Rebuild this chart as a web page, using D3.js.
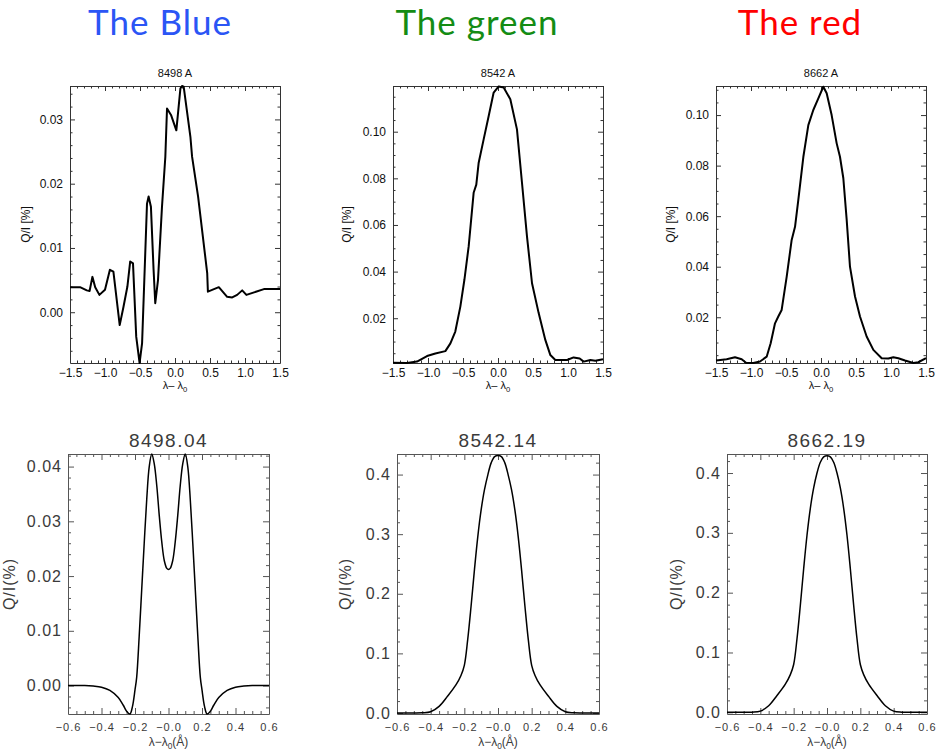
<!DOCTYPE html>
<html><head><meta charset="utf-8">
<script src="https://cdn.jsdelivr.net/npm/d3@7"></script>
<style>body{margin:0;background:#fff;} svg{display:block;}</style>
</head><body><svg id="c" width="939" height="750"></svg>
<script>
// ---------- DATA ----------
const groupTitles = ["The Blue", "The green", "The red"];
const topTitles = ["8498 A", "8542 A", "8662 A"];
const bottomTitles = ["8498.04", "8542.14", "8662.19"];

// observed profiles (top row)
const obsBlueX = [-1.5,-1.357,-1.26,-1.22,-1.18,-1.14,-1.08,-1.0,-0.93,-0.88,-0.79,-0.735,-0.68,-0.64,-0.6,-0.554,-0.506,-0.47,-0.4,-0.377,-0.344,-0.306,-0.282,-0.243,-0.186,-0.138,-0.114,-0.057,0.019,0.038,0.077,0.1,0.124,0.22,0.244,0.33,0.46,0.47,0.626,0.745,0.817,0.888,0.96,1.02,1.27,1.39,1.5];
const obsBlueY = [0.0039,0.0039,0.0034,0.0033,0.0055,0.0039,0.0027,0.0035,0.0066,0.0063,-0.002,0.0009,0.004,0.0079,0.0076,-0.0038,-0.0079,-0.0048,0.0169,0.018,0.0164,0.0066,0.0014,0.005,0.0164,0.0242,0.0317,0.0307,0.0283,0.0304,0.0348,0.0352,0.0351,0.0273,0.0242,0.018,0.0061,0.0032,0.0039,0.0024,0.0023,0.0027,0.0034,0.0027,0.0036,0.0036,0.0036];

const obsGreenX = [-1.5,-1.3,-1.157,-1.014,-0.895,-0.752,-0.68,-0.61,-0.538,-0.48,-0.419,-0.348,-0.31,-0.276,-0.205,-0.133,-0.062,0.01,0.081,0.176,0.271,0.343,0.414,0.486,0.581,0.676,0.748,0.819,0.986,1.08,1.167,1.224,1.319,1.39,1.5];
const obsGreenY = [0.0009,0.0008,0.0014,0.0038,0.0049,0.0059,0.0092,0.0143,0.025,0.0365,0.0508,0.0738,0.0773,0.0867,0.0967,0.1067,0.1168,0.1194,0.119,0.1139,0.101,0.078,0.0551,0.035,0.0222,0.0107,0.0042,0.0021,0.0021,0.0032,0.0027,0.0014,0.0021,0.0018,0.0024];

const obsRedX = [-1.5,-1.348,-1.229,-1.133,-1.071,-0.967,-0.871,-0.776,-0.719,-0.657,-0.61,-0.562,-0.49,-0.419,-0.371,-0.324,-0.252,-0.181,-0.11,-0.038,0.033,0.081,0.152,0.224,0.271,0.319,0.367,0.414,0.486,0.557,0.652,0.748,0.867,0.962,1.033,1.105,1.2,1.319,1.39,1.5];
const obsRedY = [0.0029,0.0034,0.0042,0.0034,0.0020,0.0019,0.0025,0.0044,0.0097,0.0176,0.0203,0.0229,0.0361,0.0506,0.0558,0.0664,0.0835,0.096,0.102,0.1066,0.1112,0.1086,0.1,0.0888,0.0835,0.075,0.0585,0.04,0.0282,0.0203,0.0124,0.0071,0.0038,0.0037,0.0042,0.0038,0.0029,0.0019,0.0022,0.0038];

// synthetic profiles (bottom row)
const synBlueX = [-0.6,-0.5,-0.45,-0.4,-0.35,-0.3,-0.27,-0.25,-0.23,-0.215,-0.2,-0.19,-0.175,-0.16,-0.145,-0.13,-0.115,-0.1,-0.085,-0.07,-0.055,-0.04,-0.025,-0.01,0,0.01,0.025,0.04,0.055,0.07,0.085,0.1,0.115,0.13,0.145,0.16,0.175,0.19,0.2,0.215,0.23,0.25,0.27,0.3,0.35,0.4,0.45,0.5,0.6];
const synBlueY = [0,0,-0.0001,-0.0003,-0.0009,-0.0022,-0.0036,-0.0047,-0.0052,-0.0038,-0.0008,0.0015,0.009,0.0175,0.026,0.034,0.040,0.0423,0.0405,0.0365,0.031,0.0262,0.0228,0.0214,0.0212,0.0214,0.0228,0.0262,0.031,0.0365,0.0405,0.0423,0.040,0.034,0.026,0.0175,0.009,0.0015,-0.0008,-0.0038,-0.0052,-0.0047,-0.0036,-0.0022,-0.0009,-0.0003,-0.0001,0,0];

const synGreenX = [-0.6,-0.5,-0.45,-0.4,-0.35,-0.3,-0.25,-0.22,-0.2,-0.18,-0.16,-0.14,-0.12,-0.1,-0.08,-0.06,-0.04,-0.02,0,0.02,0.04,0.06,0.08,0.1,0.12,0.14,0.16,0.18,0.2,0.22,0.25,0.3,0.35,0.4,0.45,0.5,0.6];
const synGreenY = [0,0,0.0003,0.002,0.011,0.028,0.047,0.063,0.08,0.123,0.179,0.24,0.296,0.341,0.375,0.4,0.42,0.43,0.432,0.43,0.42,0.4,0.375,0.341,0.296,0.24,0.179,0.123,0.08,0.063,0.047,0.028,0.011,0.002,0.0003,0,0];

const synRedX = [-0.6,-0.5,-0.45,-0.4,-0.35,-0.3,-0.25,-0.22,-0.2,-0.18,-0.16,-0.14,-0.12,-0.1,-0.08,-0.06,-0.04,-0.02,0,0.02,0.04,0.06,0.08,0.1,0.12,0.14,0.16,0.18,0.2,0.22,0.25,0.3,0.35,0.4,0.45,0.5,0.6];
const synRedY = [0,0,0.0003,0.002,0.011,0.028,0.047,0.063,0.08,0.123,0.179,0.24,0.296,0.341,0.375,0.4,0.418,0.427,0.429,0.427,0.418,0.4,0.375,0.341,0.296,0.24,0.179,0.123,0.08,0.063,0.047,0.028,0.011,0.002,0.0003,0,0];

// axis tick labels / extents
const topXTicks = [-1.5,-1.0,-0.5,0.0,0.5,1.0,1.5];
const bottomXTicks = [-0.6,-0.4,-0.2,0.0,0.2,0.4,0.6];
const obsBlueYTicks = [0.00,0.01,0.02,0.03];
const obsGreenYTicks = [0.02,0.04,0.06,0.08,0.10];
const obsRedYTicks = [0.02,0.04,0.06,0.08,0.10];
const synBlueYTicks = [0.00,0.01,0.02,0.03,0.04];
const synGreenYTicks = [0.0,0.1,0.2,0.3,0.4];
const synRedYTicks = [0.0,0.1,0.2,0.3,0.4];
const obsYDomains = [[-0.0079,0.0352],[0.0008,0.1196],[0.0019,0.1115]];
const synYDomains = [[-0.0052,0.0423],[-0.0017,0.4345],[-0.0028,0.4318]];

// ---------- DRAW ----------
const svg = d3.select("#c");
const titleColors = ["#2b55f5","#148c14","#ff0000"];
const titleX = [160, 477, 800];
svg.selectAll("text.gt").data(groupTitles).join("text")
  .attr("class","gt").attr("x",(d,i)=>titleX[i]).attr("y",35)
  .attr("text-anchor","middle").attr("font-family","Lato, 'Open Sans', sans-serif")
  .attr("font-size",35).attr("letter-spacing",1).attr("fill",(d,i)=>titleColors[i]).text(d=>d);

function minors(dom, step, majors){
  const out=[]; const s=Math.ceil(dom[0]/step-1e-9), e=Math.floor(dom[1]/step+1e-9);
  for(let k=s;k<=e;k++){const v=+(k*step).toFixed(6); if(!majors.some(m=>Math.abs(m-v)<1e-9)) out.push(v);}
  return out;
}

function panel(o){
  const g = svg.append("g");
  const x = d3.scaleLinear().domain(o.xDom).range([o.l,o.r]);
  const y = d3.scaleLinear().domain(o.yDom).range([o.b,o.t]);
  const ink = o.ink;
  const sides = [["bottom",o.b,true],["top",o.t,false],["left",o.l,true],["right",o.r,false]];
  sides.forEach(([side,pos,lab])=>{
    const isX = side==="bottom"||side==="top";
    const mk = ()=> side==="bottom"?d3.axisBottom(x):side==="top"?d3.axisTop(x):side==="left"?d3.axisLeft(y):d3.axisRight(y);
    const majors = isX ? o.xTicks : o.yTicks;
    const dom = isX ? o.xDom : o.yDom;
    const mStep = isX ? o.xMinor : o.yMinor;
    const tr = isX?`translate(0,${pos})`:`translate(${pos},0)`;
    const mi = g.append("g").attr("transform", tr)
      .call(mk().tickValues(minors(dom,mStep,majors)).tickSizeInner(-o.minLen).tickSizeOuter(0).tickFormat(""));
    mi.select(".domain").remove();
    mi.selectAll("line").attr("stroke",ink);
    const ma = g.append("g").attr("transform", tr)
      .call(mk().tickValues(majors).tickSizeInner(-o.majLen).tickSizeOuter(0)
        .tickPadding(isX?o.xPad:o.yPad).tickFormat(lab ? (isX?o.xFmt:o.yFmt) : ""));
    ma.select(".domain").attr("stroke",ink);
    ma.selectAll("line").attr("stroke",ink);
    ma.selectAll("text").attr("font-family",o.font).attr("font-size",isX?o.xFs:o.yFs)
      .attr("fill",o.textInk).attr("letter-spacing",o.ls);
  });
  const line = d3.line().x(d=>x(d[0])).y(d=>y(d[1])).curve(o.curve);
  g.append("path").datum(d3.zip(o.xs,o.ys)).attr("d",line)
    .attr("fill","none").attr("stroke","#000").attr("stroke-width",o.lw).attr("stroke-linejoin","round");
  g.append("text").attr("x",(o.l+o.r)/2).attr("y",o.titleY).attr("text-anchor","middle")
    .attr("font-family",o.font).attr("font-size",o.titleFs).attr("fill",o.textInk)
    .attr("letter-spacing",o.titleLs).text(o.title);
  g.append("text").attr("transform",`translate(${o.yLabX},${(o.t+o.b)/2}) rotate(-90)`)
    .attr("text-anchor","middle").attr("dominant-baseline","middle")
    .attr("font-family",o.font).attr("font-size",o.yLabFs).attr("fill",o.textInk)
    .attr("letter-spacing",o.ls).text(o.yLab);
  const xl = g.append("text").attr("x",(o.l+o.r)/2).attr("y",o.xLabY).attr("text-anchor","middle")
    .attr("font-family",o.font).attr("font-size",o.xLabFs).attr("fill",o.textInk);
  xl.append("tspan").text(o.xLabA);
  xl.append("tspan").attr("font-size",o.xLabFs*0.7).attr("dy",3).text("0");
  if(o.xLabB){ xl.append("tspan").attr("dy",-3).text(o.xLabB); }
}

const fmtTopX = d=>d3.format(".1f")(d);
const fmtBotX = d=> d===0 ? "\u22120.0" : d3.format(".1f")(d);
const topLay = [[70,280],[393,603],[716,926]];
const botLay = [[68,269],[397,599],[727,927]];
const obsXs=[obsBlueX,obsGreenX,obsRedX], obsYs=[obsBlueY,obsGreenY,obsRedY];
const obsYT=[obsBlueYTicks,obsGreenYTicks,obsRedYTicks];
const obsYMin=[0.002,0.005,0.005];
const synXs=[synBlueX,synGreenX,synRedX], synYs=[synBlueY,synGreenY,synRedY];
const synYT=[synBlueYTicks,synGreenYTicks,synRedYTicks];
const synYMin=[0.002,0.02,0.02];
const synYFmt=[d3.format(".2f"),d3.format(".1f"),d3.format(".1f")];
const topYLabX=[27,348,672];
const botYLabX=[11,347,678];

for(let i=0;i<3;i++){
  panel({l:topLay[i][0],r:topLay[i][1],t:86,b:363,xDom:[-1.5,1.5],yDom:obsYDomains[i],
    xTicks:topXTicks,yTicks:obsYT[i],xMinor:0.1,yMinor:obsYMin[i],
    majLen:5,minLen:2.5,ink:"#333",textInk:"#111",font:"'Liberation Sans', Arial, sans-serif",
    xFs:12,yFs:12,ls:0,xPad:5,yPad:7,xFmt:fmtTopX,yFmt:d3.format(".2f"),
    xs:obsXs[i],ys:obsYs[i],curve:d3.curveLinear,lw:2,
    title:topTitles[i],titleY:77,titleFs:11,titleLs:0,
    yLab:"Q/I [%]",yLabX:topYLabX[i],yLabFs:12,
    xLabY:389,xLabFs:11,xLabA:"\u03bb\u2013 \u03bb",xLabB:""});
  panel({l:botLay[i][0],r:botLay[i][1],t:454,b:714,xDom:[-0.6,0.6],yDom:synYDomains[i],
    xTicks:bottomXTicks,yTicks:synYT[i],xMinor:0.05,yMinor:synYMin[i],
    majLen:6,minLen:3,ink:"#555",textInk:"#3a3a3a",font:"'Liberation Sans', Arial, sans-serif",
    xFs:11,yFs:16,ls:1,xPad:9,yPad:6,xFmt:fmtBotX,yFmt:synYFmt[i],
    xs:synXs[i],ys:synYs[i],curve:d3.curveCatmullRom,lw:1.5,
    title:bottomTitles[i],titleY:447,titleFs:19,titleLs:1.5,
    yLab:"Q/I(%)",yLabX:botYLabX[i],yLabFs:16,
    xLabY:746,xLabFs:12,xLabA:"\u03bb\u2212\u03bb",xLabB:"(\u00c5)"});
}
</script></body></html>
